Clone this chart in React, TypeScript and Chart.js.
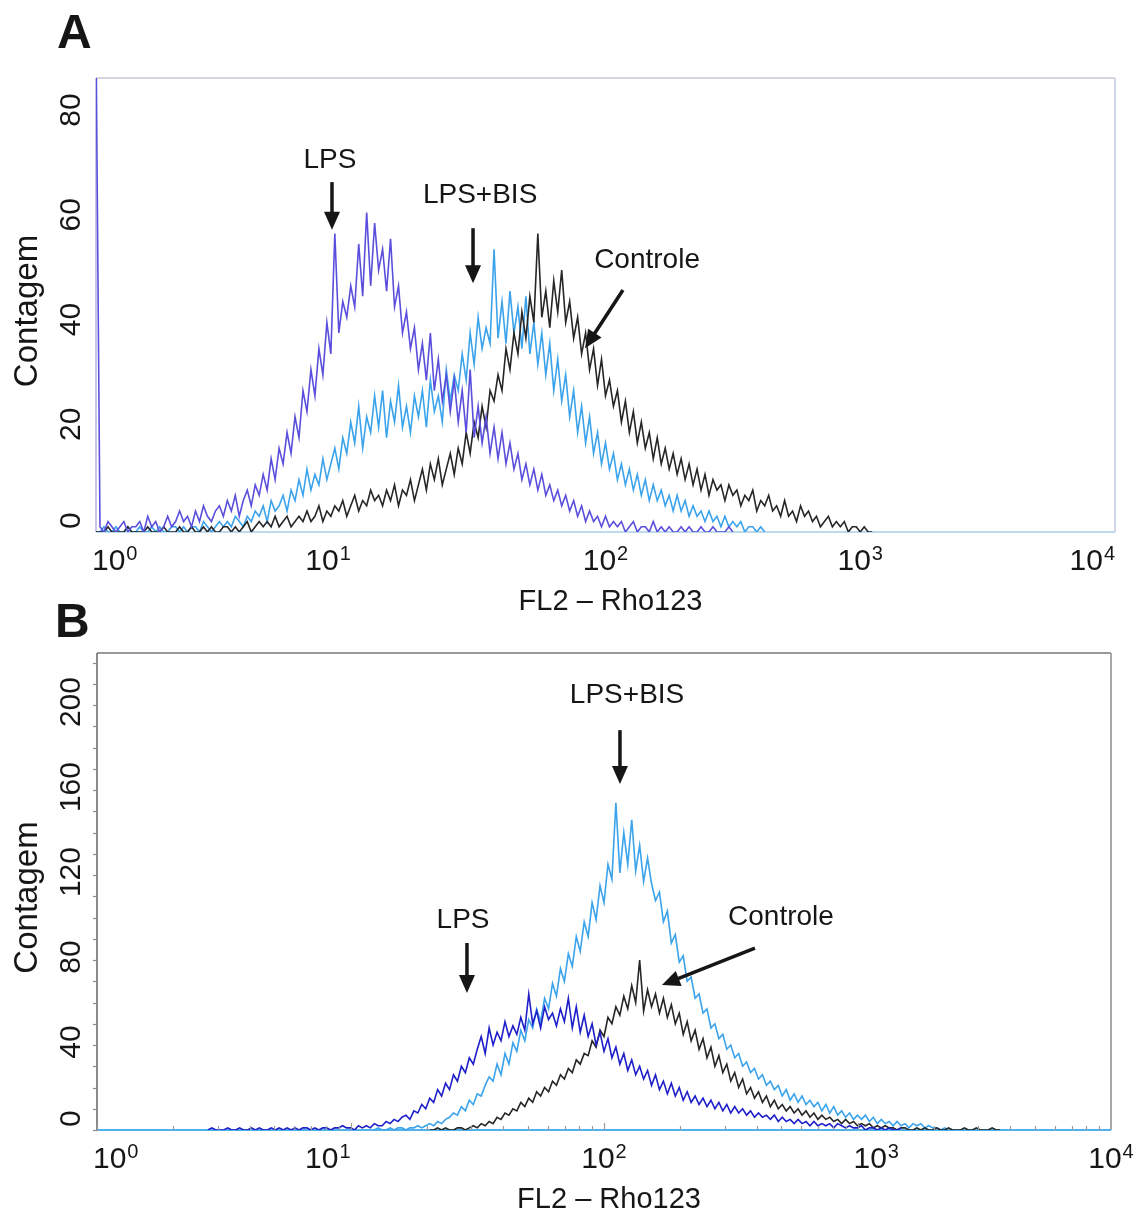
import React, { useEffect, useRef } from "react";
import { Chart, registerables } from "chart.js";

Chart.register(...registerables);

const FONT = "'Liberation Sans', Arial, Helvetica, sans-serif";
const INK = "#161616";

// FL2 channels: 64 bins per decade on the 4-decade log scale
const BINS_PER_DECADE = 64;
const decadeValues = [1, 10, 100, 1000, 10000];
const decadeExponents = ["0", "1", "2", "3", "4"];

// ---------- Panel A: counts per bin ----------
const lpsAStartBin = 0;
const lpsACounts = [
  95, 1, 0, 2, 1, 0, 1, 2, 0, 1, 1,
  2, 0, 3, 1, 2, 0, 1, 3, 1, 2,
  4, 2, 3, 1, 4, 2, 5, 3, 2, 4,
  5, 3, 6, 4, 7, 3, 6, 8, 5, 9,
  7, 11, 8, 14, 10, 16, 13, 19, 15, 22,
  18, 27, 23, 31, 26, 35, 30, 40, 34, 57,
  38, 44, 41, 47, 43, 55, 45, 61, 47, 59,
  50, 54, 46, 56, 43, 47, 38, 42, 35, 39,
  31, 36, 29, 38, 27, 33, 25, 30, 23, 29,
  21, 27, 19, 31, 18, 24, 17, 22, 15, 20,
  14, 19, 13, 17, 12, 15, 10, 13, 9, 12,
  8, 11, 7, 9, 6, 8, 5, 7, 4, 6,
  3, 5, 2, 4, 2, 3, 1, 3, 1, 2,
  1, 2, 0, 1, 2, 0, 1, 1, 0, 2,
  0, 1, 0, 1, 0, 0, 1, 0, 1, 0,
  0, 1, 0, 0, 1, 0, 0, 0, 1, 0,
];

const bisAStartBin = 0;
const bisACounts = [
  0, 0, 1, 0, 0, 1, 0, 0, 1, 0, 0,
  1, 0, 0, 1, 0, 1, 0, 0, 1, 1,
  0, 1, 0, 1, 1, 0, 2, 1, 0, 1,
  2, 1, 2, 1, 3, 2, 1, 3, 2, 4,
  3, 5, 2, 6, 4, 5, 7, 4, 8, 6,
  10, 7, 12, 8, 11, 9, 14, 10, 13, 16,
  12, 18, 15, 21, 17, 24, 16, 22, 19, 26,
  20, 27, 18, 25, 21, 28, 20, 24, 19, 26,
  22, 27, 20, 29, 23, 26, 21, 31, 25, 30,
  27, 34, 29, 38, 32, 41, 35, 39, 36, 54,
  37, 44, 36, 46, 38, 43, 35, 45, 34, 40,
  32, 38, 30, 36, 27, 33, 25, 30, 22, 27,
  19, 24, 17, 22, 15, 19, 13, 17, 12, 15,
  10, 13, 9, 12, 8, 11, 7, 10, 6, 9,
  6, 8, 5, 7, 4, 7, 4, 6, 3, 5,
  3, 4, 2, 4, 2, 3, 1, 3, 1, 2,
  1, 2, 0, 1, 1, 0, 1, 0,
];

const ctrlAStartBin = 0;
const ctrlACounts = [
  0, 0, 0, 1, 0, 0, 0, 0, 1, 0, 0,
  0, 0, 1, 0, 0, 0, 1, 0, 0, 0,
  1, 0, 0, 1, 0, 0, 1, 0, 1, 0,
  0, 1, 1, 0, 1, 0, 1, 2, 0, 1,
  2, 1, 2, 1, 3, 1, 2, 3, 1, 2,
  3, 2, 4, 2, 3, 5, 2, 4, 3, 5,
  4, 6, 3, 5, 7, 4, 6, 5, 8, 6,
  7, 5, 8, 6, 9, 5, 8, 7, 10, 6,
  9, 12, 8, 13, 10, 14, 9, 12, 15, 11,
  16, 13, 19, 15, 21, 18, 24, 20, 27, 25,
  30, 27, 35, 31, 38, 34, 42, 37, 45, 40,
  57, 41, 46, 39, 48, 42, 50, 40, 44, 37,
  41, 34, 38, 31, 35, 28, 33, 26, 29, 24,
  27, 21, 25, 19, 23, 17, 21, 16, 19, 14,
  18, 13, 16, 12, 15, 11, 14, 10, 13, 9,
  12, 8, 11, 7, 10, 8, 9, 6, 9, 7,
  8, 5, 7, 6, 8, 4, 6, 5, 7, 4,
  5, 3, 6, 3, 4, 2, 5, 3, 4, 2,
  3, 1, 2, 3, 1, 2, 1, 2, 0, 1,
  1, 0, 1, 0, 0,
];

// ---------- Panel B: counts per bin ----------
const lpsBStartBin = 28;
const lpsBCounts = [
  0, 1, 0, 0, 0, 1, 0, 0, 1, 0,
  0, 1, 0, 1, 0, 0, 1, 0, 1, 0,
  1, 0, 1, 0, 1, 1, 0, 1, 0, 1,
  1, 0, 1, 1, 2, 1, 1, 0, 2, 1,
  2, 1, 3, 2, 2, 4, 3, 5, 4, 6,
  7, 5, 9, 8, 12, 10, 15, 13, 19, 16,
  22, 19, 26, 23, 30, 27, 34, 31, 38, 44,
  36, 48, 40, 46, 42, 51, 44, 49, 45, 53,
  47, 64, 50, 56, 48, 58, 52, 55, 49, 57,
  51, 62, 48, 58, 46, 54, 44, 50, 40, 46,
  37, 43, 34, 39, 31, 36, 28, 33, 26, 30,
  24, 28, 21, 26, 19, 23, 17, 22, 16, 20,
  14, 18, 13, 16, 12, 15, 11, 14, 10, 13,
  9, 12, 8, 11, 8, 10, 7, 9, 6, 8,
  6, 7, 5, 7, 4, 6, 4, 5, 3, 5,
  3, 4, 2, 4, 2, 3, 2, 3, 1, 3,
  2, 1, 2, 1, 1, 2, 0, 1, 1, 0,
  1, 0, 1, 0, 0, 1,
];

const bisBStartBin = 70;
const bisBCounts = [
  0, 1, 0, 0, 1, 0, 1, 1, 0, 1,
  1, 2, 1, 2, 3, 2, 4, 3, 5, 6,
  8, 7, 11, 9, 14, 12, 17, 16, 21, 25,
  23, 31, 26, 36, 31, 41, 37, 47, 42, 52,
  48, 57, 51, 62, 57, 69, 63, 76, 70, 83,
  77, 91, 84, 98, 91, 107, 99, 115, 107, 125,
  118, 154, 121, 140, 125, 146, 122, 134, 117, 128,
  116, 108, 112, 98, 103, 88, 92, 79, 82, 70,
  72, 62, 64, 55, 57, 48, 50, 43, 45, 38,
  40, 34, 36, 30, 32, 27, 29, 24, 26, 21,
  23, 19, 21, 16, 19, 14, 17, 13, 16, 12,
  14, 11, 13, 9, 12, 8, 11, 7, 9, 6,
  8, 5, 7, 5, 7, 4, 6, 3, 5, 3,
  4, 2, 4, 2, 3, 1, 3, 2, 3, 1,
  2, 1, 1, 0, 1, 0,
];

const ctrlBStartBin = 84;
const ctrlBCounts = [
  0, 0, 1, 0, 1, 0, 0, 1, 1, 0,
  1, 2, 1, 3, 2, 4, 3, 6, 5, 8,
  7, 10, 9, 13, 11, 15, 13, 18, 16, 20,
  18, 23, 21, 26, 24, 29, 27, 33, 31, 36,
  35, 42, 39, 47, 44, 53, 50, 58, 54, 63,
  57, 68, 60, 80, 56, 66, 58, 64, 55, 62,
  53, 59, 50, 55, 45, 51, 42, 47, 38, 43,
  34, 39, 30, 35, 27, 31, 23, 27, 20, 24,
  17, 20, 15, 18, 13, 16, 11, 14, 10, 12,
  9, 11, 8, 10, 7, 9, 6, 8, 5, 7,
  5, 6, 4, 5, 3, 5, 3, 4, 2, 3,
  2, 3, 1, 2, 1, 2, 1, 1, 0, 1,
  1, 0, 0, 1, 0, 1, 0, 0, 1, 0, 0, 1, 0, 0, 0, 1, 0, 0, 1, 0, 0, 0, 1, 0, 0,
];

const yTicksA = [0, 20, 40, 60, 80];
const yTicksB = [0, 40, 80, 120, 160, 200];

type Pt = [number, number];
type Callout = { text: string; textAt: Pt; from: Pt; to: Pt };

// callout text and arrows, in data units (FL2, count)
const calloutsA: Callout[] = [
  { text: "LPS", textAt: [8.29, 71.0], from: [8.44, 66.8], to: [8.44, 57.7] },
  { text: "LPS+BIS", textAt: [32.2, 64.3], from: [30.2, 58.0], to: [30.2, 47.5] },
  { text: "Controle", textAt: [145.6, 51.9], from: [117.1, 46.2], to: [83.1, 35.1] },
];
const calloutsB: Callout[] = [
  { text: "LPS+BIS", textAt: [123.3, 204.7], from: [115.6, 188.2], to: [115.6, 162.8] },
  { text: "LPS", textAt: [27.8, 98.8], from: [28.8, 88.0], to: [28.8, 64.5] },
  { text: "Controle", textAt: [499, 100.2], from: [394, 85.6], to: [169.3, 68.2] },
];

function toPoints(startBin: number, counts: number[]) {
  return counts.map((c, i) => ({ x: Math.pow(10, (startBin + i) / BINS_PER_DECADE), y: c }));
}

interface PanelCfg {
  letter: string;
  letterPos: Pt;
  yMax: number;
  yTicks: number[];
  yMinorStep: number | null;
  xMinorTicks: boolean;
  xLabelAlign: ("left" | "right" | "center")[];
  padding: { left: number; right: number; top: number; bottom: number };
  frame: { top: string; right: string; bottom: string; left: string; width: number };
  callouts: Callout[];
  series: { name: string; color: string; start: number; counts: number[] }[];
}

const panelA: PanelCfg = {
  letter: "A",
  letterPos: [57, 48],
  yMax: 86.68,
  yTicks: yTicksA,
  yMinorStep: null,
  xMinorTicks: false,
  xLabelAlign: ["left", "right", "center", "center", "right"],
  padding: { left: 96, right: 25, top: 78, bottom: 88 },
  frame: { top: "#c6cad6", right: "#c2cfe0", bottom: "#a8cfe8", left: "#b9b6e4", width: 1.6 },
  callouts: calloutsA,
  series: [
    { name: "LPS", color: "#5a4fdc", start: lpsAStartBin, counts: lpsACounts },
    { name: "Controle", color: "#262626", start: ctrlAStartBin, counts: ctrlACounts },
    { name: "LPS+BIS", color: "#3ba3ec", start: bisAStartBin, counts: bisACounts },
  ],
};

const panelB: PanelCfg = {
  letter: "B",
  letterPos: [55, 37],
  yMax: 224.5,
  yTicks: yTicksB,
  yMinorStep: 10,
  xMinorTicks: true,
  xLabelAlign: ["left", "right", "center", "left", "center"],
  padding: { left: 97, right: 29, top: 53, bottom: 90 },
  frame: { top: "#9a9a9a", right: "#a8a8a8", bottom: "#4fb2ea", left: "#8a8a8a", width: 2 },
  callouts: calloutsB,
  series: [
    { name: "LPS", color: "#1f1fc9", start: lpsBStartBin, counts: lpsBCounts },
    { name: "Controle", color: "#262626", start: ctrlBStartBin, counts: ctrlBCounts },
    { name: "LPS+BIS", color: "#3ba3ec", start: bisBStartBin, counts: bisBCounts },
  ],
};

function decorPlugin(cfg: PanelCfg) {
  return {
    id: "panelDecor",
    beforeDatasetsDraw(chart: any) {
      const { ctx, chartArea: a } = chart;
      ctx.save();
      ctx.lineWidth = cfg.frame.width;
      const seg = (c: string, x1: number, y1: number, x2: number, y2: number) => {
        ctx.strokeStyle = c;
        ctx.beginPath();
        ctx.moveTo(x1, y1);
        ctx.lineTo(x2, y2);
        ctx.stroke();
      };
      seg(cfg.frame.top, a.left, a.top, a.right, a.top);
      seg(cfg.frame.right, a.right, a.top, a.right, a.bottom);
      seg(cfg.frame.left, a.left, a.top, a.left, a.bottom);
      seg(cfg.frame.bottom, a.left, a.bottom, a.right, a.bottom);
      ctx.restore();
    },
    afterDraw(chart: any) {
      const { ctx, chartArea: a } = chart;
      const xs = chart.scales.x;
      const ys = chart.scales.y;
      ctx.save();

      // axis tick marks
      if (cfg.yMinorStep) {
        ctx.strokeStyle = "#8a8a8a";
        ctx.lineWidth = 1.2;
        for (let v = 0; v <= cfg.yMax; v += cfg.yMinorStep) {
          const y = Math.round(ys.getPixelForValue(v)) + 0.5;
          ctx.beginPath();
          ctx.moveTo(a.left - 4, y);
          ctx.lineTo(a.left + 1, y);
          ctx.stroke();
        }
      }
      if (cfg.xMinorTicks) {
        ctx.strokeStyle = "#9a9a9a";
        ctx.lineWidth = 1.2;
        for (let d = 0; d < 4; d++) {
          for (let m = 1; m <= 9; m++) {
            const x = Math.round(xs.getPixelForValue(m * Math.pow(10, d))) + 0.5;
            const len = m === 1 ? 7 : 4;
            ctx.beginPath();
            ctx.moveTo(x, a.bottom);
            ctx.lineTo(x, a.bottom - len);
            ctx.stroke();
          }
        }
      }

      ctx.fillStyle = INK;
      ctx.strokeStyle = INK;

      // x tick labels: 10 with raised exponent
      ctx.textBaseline = "alphabetic";
      ctx.textAlign = "left";
      const baseline = a.bottom + 38;
      decadeValues.forEach((v, i) => {
        const x = xs.getPixelForValue(v);
        ctx.font = `30px ${FONT}`;
        const wb = ctx.measureText("10").width;
        ctx.font = `20px ${FONT}`;
        const we = ctx.measureText(decadeExponents[i]).width;
        const w = wb + we + 1;
        const al = cfg.xLabelAlign[i];
        const sx = al === "left" ? x - 4 : al === "right" ? x - w : x - w / 2;
        ctx.font = `30px ${FONT}`;
        ctx.fillText("10", sx, baseline);
        ctx.font = `20px ${FONT}`;
        ctx.fillText(decadeExponents[i], sx + wb + 1, baseline - 10);
      });

      // y tick labels, rotated
      ctx.font = `30px ${FONT}`;
      ctx.textAlign = "center";
      ctx.textBaseline = "middle";
      cfg.yTicks.forEach((v) => {
        const label = String(v);
        const half = ctx.measureText(label).width / 2;
        const y = Math.min(ys.getPixelForValue(v) - 3, a.bottom - half - 3);
        ctx.save();
        ctx.translate(72, y);
        ctx.rotate(-Math.PI / 2);
        ctx.fillText(label, 0, 0);
        ctx.restore();
      });

      // axis titles
      ctx.font = `33px ${FONT}`;
      ctx.save();
      ctx.translate(28, (a.top + a.bottom) / 2 + 6);
      ctx.rotate(-Math.PI / 2);
      ctx.fillText("Contagem", 0, 0);
      ctx.restore();
      ctx.font = `29px ${FONT}`;
      ctx.fillText("FL2 \u2013 Rho123", (a.left + a.right) / 2 + 5, a.bottom + 70);

      // panel letter
      ctx.font = `bold 48px ${FONT}`;
      ctx.textAlign = "left";
      ctx.textBaseline = "alphabetic";
      ctx.fillText(cfg.letter, cfg.letterPos[0], cfg.letterPos[1]);

      // callouts
      ctx.font = `28px ${FONT}`;
      ctx.textAlign = "center";
      ctx.textBaseline = "middle";
      ctx.lineWidth = 3.5;
      ctx.lineCap = "butt";
      cfg.callouts.forEach((c) => {
        const tx = xs.getPixelForValue(c.textAt[0]);
        const ty = ys.getPixelForValue(c.textAt[1]);
        ctx.fillText(c.text, tx, ty);
        const x1 = xs.getPixelForValue(c.from[0]);
        const y1 = ys.getPixelForValue(c.from[1]);
        const x2 = xs.getPixelForValue(c.to[0]);
        const y2 = ys.getPixelForValue(c.to[1]);
        const ang = Math.atan2(y2 - y1, x2 - x1);
        const hl = 18;
        const hw = 8;
        const bx = x2 - hl * Math.cos(ang);
        const by = y2 - hl * Math.sin(ang);
        ctx.beginPath();
        ctx.moveTo(x1, y1);
        ctx.lineTo(bx + 2 * Math.cos(ang), by + 2 * Math.sin(ang));
        ctx.stroke();
        ctx.beginPath();
        ctx.moveTo(x2, y2);
        ctx.lineTo(bx + hw * Math.sin(ang), by - hw * Math.cos(ang));
        ctx.lineTo(bx - hw * Math.sin(ang), by + hw * Math.cos(ang));
        ctx.closePath();
        ctx.fill();
      });
      ctx.restore();
    },
  };
}

function HistogramPanel({ cfg, top, height }: { cfg: PanelCfg; top: number; height: number }) {
  const canvasRef = useRef<HTMLCanvasElement>(null);
  useEffect(() => {
    const canvas = canvasRef.current;
    if (!canvas) return;
    const chart = new Chart(canvas, {
      type: "line",
      data: {
        datasets: cfg.series.map((s) => ({
          label: s.name,
          data: toPoints(s.start, s.counts),
          borderColor: s.color,
          backgroundColor: s.color,
          borderWidth: 1.6,
          pointRadius: 0,
          tension: 0,
          fill: false,
        })),
      },
      options: {
        responsive: false,
        animation: false,
        devicePixelRatio: 1,
        events: [],
        layout: { padding: cfg.padding },
        plugins: { legend: { display: false }, tooltip: { enabled: false }, title: { display: false } },
        scales: {
          x: { type: "logarithmic", min: 1, max: 10000, display: false },
          y: { type: "linear", min: 0, max: cfg.yMax, display: false },
        },
      } as any,
      plugins: [decorPlugin(cfg)],
    });
    return () => chart.destroy();
  }, [cfg]);
  return (
    <canvas
      ref={canvasRef}
      width={1140}
      height={height}
      style={{ position: "absolute", left: 0, top, width: 1140, height, display: "block" }}
    />
  );
}

export default function App() {
  return (
    <div style={{ position: "absolute", left: 0, top: 0, width: 1140, height: 1220, background: "#ffffff" }}>
      <HistogramPanel cfg={panelA} top={0} height={620} />
      <HistogramPanel cfg={panelB} top={600} height={620} />
    </div>
  );
}
